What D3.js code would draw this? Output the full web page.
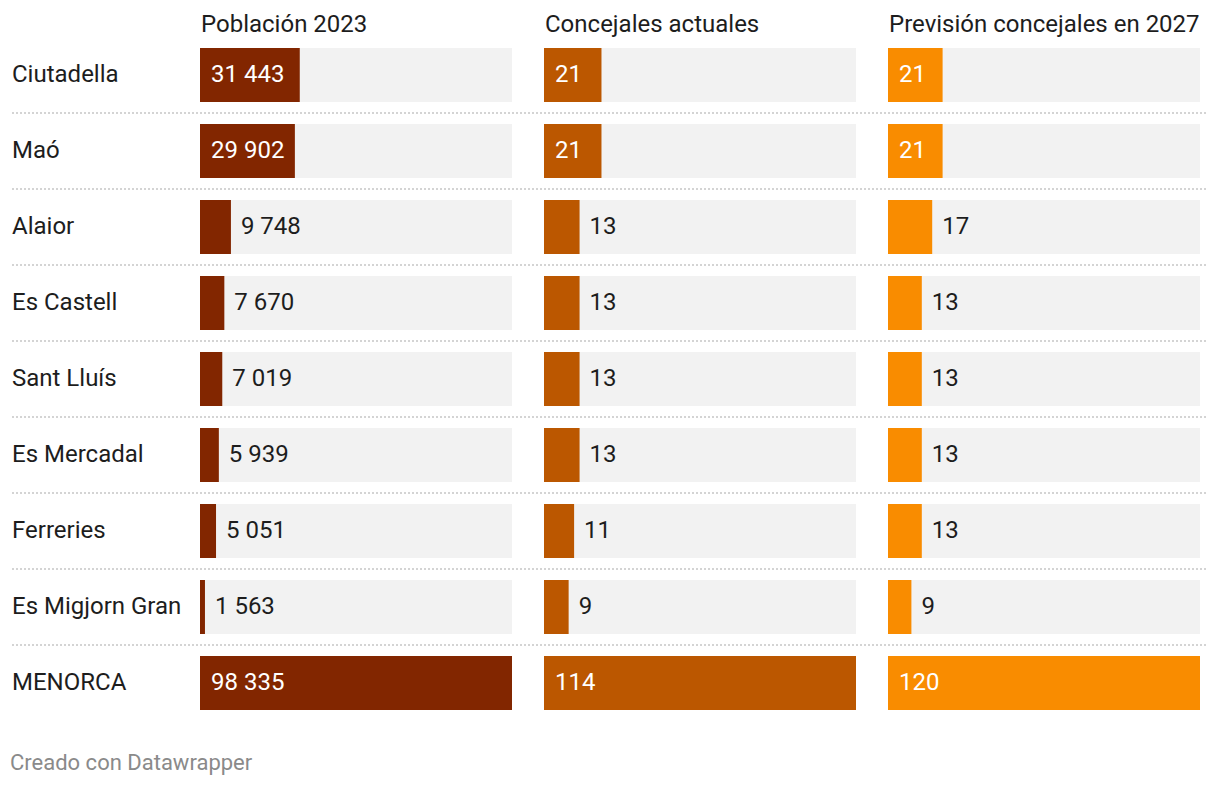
<!DOCTYPE html>
<html><head><meta charset="utf-8">
<script src="https://cdn.jsdelivr.net/npm/d3@7"></script>
<style>
body{margin:0;background:#fff;font-family:Roboto,"Noto Sans",sans-serif;}
svg text{font-family:Roboto,"Noto Sans",sans-serif;}
</style></head>
<body>
<svg id="chart" width="1220" height="786"></svg>
<script>
const municipios = ["Ciutadella","Maó","Alaior","Es Castell","Sant Lluís","Es Mercadal","Ferreries","Es Migjorn Gran","MENORCA"];
const poblacion2023 = [31443,29902,9748,7670,7019,5939,5051,1563,98335];
const concejalesActuales = [21,21,13,13,13,13,11,9,114];
const concejales2027 = [21,21,17,13,13,13,13,9,120];
const columnTitles = ["Población 2023","Concejales actuales","Previsión concejales en 2027"];
const columnColors = ["#822600","#bb5700","#f98c00"];
const footer = "Creado con Datawrapper";

const columns = [poblacion2023, concejalesActuales, concejales2027];
const svg = d3.select("#chart");

const colX = [200, 544, 888];
const colW = 312;
const rowTop = 48, rowStep = 76, barH = 54;
const yPos = i => rowTop + i * rowStep;
const FS = 24;

// separators
svg.append("g").selectAll("line").data(d3.range(municipios.length - 1)).join("line")
  .attr("x1", 12).attr("x2", 1208)
  .attr("y1", i => yPos(i) + barH + 11).attr("y2", i => yPos(i) + barH + 11)
  .attr("stroke", "#d4d4d4").attr("stroke-width", 2).attr("stroke-dasharray", "2,2");

// row labels
svg.append("g").selectAll("text").data(municipios).join("text")
  .attr("x", 12).attr("y", (d, i) => yPos(i) + barH / 2 + 7)
  .attr("font-size", FS).attr("fill", "#1d1d1d").text(d => d);

// headers
svg.append("g").selectAll("text").data(columnTitles).join("text")
  .attr("x", (d, i) => colX[i] + 1).attr("y", 32)
  .attr("font-size", FS).attr("fill", "#1d1d1d").text(d => d);

columns.forEach((vals, c) => {
  const x = d3.scaleLinear().domain([0, d3.max(vals)]).range([colX[c], colX[c] + colW]);
  const g = svg.append("g");
  g.selectAll("rect.bg").data(vals).join("rect").attr("class", "bg")
    .attr("x", colX[c]).attr("width", colW)
    .attr("y", (d, i) => yPos(i)).attr("height", barH).attr("fill", "#f2f2f2");
  g.selectAll("rect.bar").data(vals).join("rect").attr("class", "bar")
    .attr("x", x(0)).attr("width", d => x(d) - x(0))
    .attr("y", (d, i) => yPos(i)).attr("height", barH).attr("fill", columnColors[c]);
  const labels = g.selectAll("text").data(vals).join("text")
    .attr("y", (d, i) => yPos(i) + barH / 2 + 7)
    .attr("font-size", FS).text(d => d3.format(",")(d).replace(/,/g, " "));
  labels.each(function(d) {
    const w = this.getComputedTextLength();
    const bw = x(d) - x(0);
    const inside = bw > w + 20;
    d3.select(this).attr("x", inside ? x(0) + 11 : x(d) + 10)
      .attr("fill", inside ? "#ffffff" : "#1d1d1d");
  });
});

svg.append("text").attr("x", 10).attr("y", 770).attr("font-size", 22)
  .attr("fill", "#8a8a8a").text(footer);
</script>
</body></html>
